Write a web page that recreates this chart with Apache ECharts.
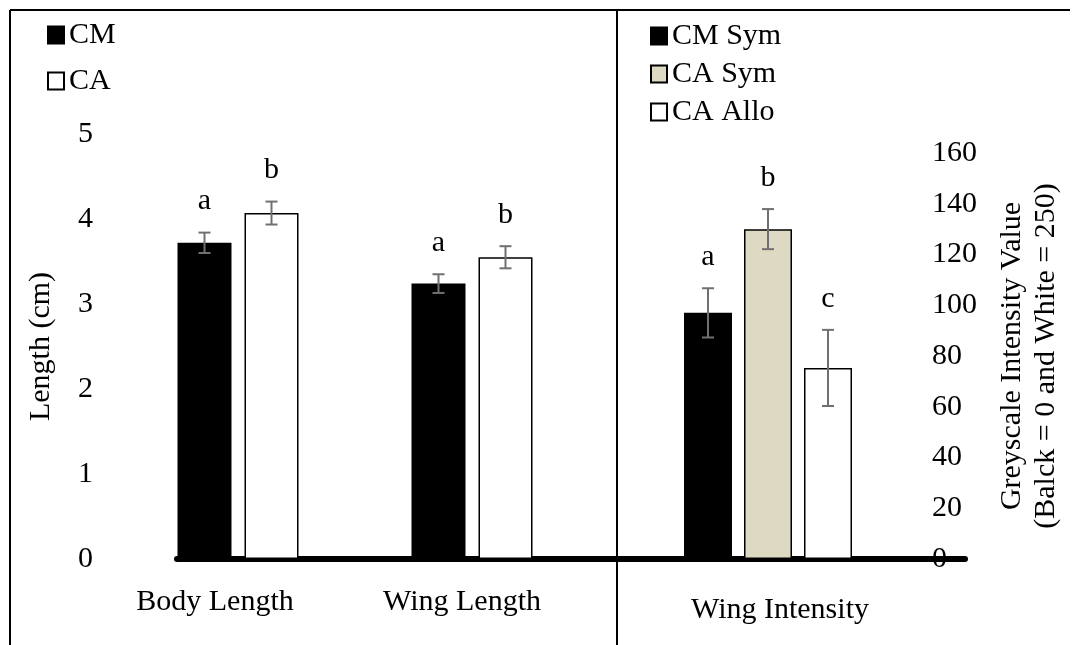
<!DOCTYPE html>
<html>
<head>
<meta charset="utf-8">
<script src="https://cdn.jsdelivr.net/npm/echarts@6/dist/echarts.min.js"></script>
<style>
html,body{margin:0;padding:0;background:#fff;}
#c{width:1080px;height:645px;}
</style>
</head>
<body>
<div id="c"></div>
<script>
// ---- data ----
const lengthCategories = ['Body Length', 'Wing Length'];
const cmMeans = [3.72, 3.24];
const cmErr = [0.12, 0.11];
const cmLetters = ['a', 'a'];
const caMeans = [4.07, 3.55];
const caErr = [0.135, 0.13];
const caLetters = ['b', 'b'];

const intensityCategories = ['Wing Intensity'];
const cmSymMeans = [97];
const cmSymErr = [9.7];
const cmSymLetters = ['a'];
const caSymMeans = [130];
const caSymErr = [7.9];
const caSymLetters = ['b'];
const caAlloMeans = [75.3];
const caAlloErr = [15];
const caAlloLetters = ['c'];

const leftTicks = {min: 0, max: 5, interval: 1};
const rightTicks = {min: 0, max: 160, interval: 20};

// ---- style ----
const FONT = 'Liberation Serif, "Times New Roman", serif';
const FS = 30;
const TAN = '#ddd9c3';
const ERR = '#707070';
const LBW = 54, LGAP = 13;
const RBW = 48, RGAP = 12;

function errData(means, errs, letters) {
  return means.map((m, i) => [i, m, errs[i], letters[i]]);
}
function errSeries(name, means, errs, letters, idx, n, bw, gap, axisIdx) {
  const offset = (idx - (n - 1) / 2) * (bw + gap);
  return {
    type: 'custom',
    name: name + ' err',
    xAxisIndex: axisIdx, yAxisIndex: axisIdx,
    z: 10,
    silent: true,
    data: errData(means, errs, letters),
    renderItem: function (params, api) {
      const c = api.value(0), m = api.value(1), e = api.value(2);
      const top = api.coord([c, m + e]);
      const bot = api.coord([c, m - e]);
      const x = top[0] + offset;
      const cap = 6;
      const st = {stroke: ERR, lineWidth: 2};
      return {
        type: 'group',
        children: [
          {type: 'line', shape: {x1: x, y1: top[1], x2: x, y2: bot[1]}, style: st},
          {type: 'line', shape: {x1: x - cap, y1: top[1], x2: x + cap, y2: top[1]}, style: st},
          {type: 'line', shape: {x1: x - cap, y1: bot[1], x2: x + cap, y2: bot[1]}, style: st},
          {type: 'text', style: {text: api.value(3), x: x, y: top[1] - 16, align: 'center', verticalAlign: 'bottom',
             font: FS + 'px ' + FONT, fill: '#000'}}
        ]
      };
    }
  };
}

const barBase = {type: 'bar', barGap: '0%'};

const option = {
  animation: false,
  backgroundColor: '#fff',
  legend: [
    {
      data: ['CM', 'CA'], orient: 'vertical', left: 42, top: 15,
      itemWidth: 16, itemHeight: 17, itemGap: 16, icon: 'rect',
      textStyle: {fontFamily: FONT, fontSize: FS, color: '#000'}
    },
    {
      data: ['CM Sym', 'CA Sym', 'CA Allo'], orient: 'vertical', left: 645, top: 16,
      itemWidth: 16, itemHeight: 17, itemGap: 8, icon: 'rect',
      textStyle: {fontFamily: FONT, fontSize: FS, color: '#000'}
    }
  ],
  grid: [
    {left: 121, right: 1080 - 589, top: 134, bottom: 86, containLabel: false},
    {left: 617, right: 1080 - 919, top: 153, bottom: 86, containLabel: false},
    {left: 177, right: 1080 - 965, top: 134, bottom: 86, containLabel: false}
  ],
  xAxis: [
    {
      type: 'category', gridIndex: 0, data: lengthCategories,
      axisLine: {show: false}, axisTick: {show: false},
      axisLabel: {
        interval: 0, hideOverlap: false,
        margin: 28, color: '#000', fontFamily: FONT, fontSize: FS,
        formatter: function (v, i) { return i === 0 ? '{a|' + v + '}' : '{b|' + v + '}'; },
        rich: {
          a: {fontFamily: FONT, fontSize: FS, color: '#000', padding: [0, 46, 0, 0]},
          b: {fontFamily: FONT, fontSize: FS, color: '#000', padding: [0, 20, 0, 0]}
        }
      }
    },
    {
      type: 'category', gridIndex: 1, data: intensityCategories,
      axisLine: {show: false}, axisTick: {show: false},
      axisLabel: {
        interval: 0,
        margin: 36, color: '#000', fontFamily: FONT, fontSize: FS,
        formatter: function (v) { return '{a|' + v + '}'; },
        rich: {a: {fontFamily: FONT, fontSize: FS, color: '#000', padding: [0, 0, 0, 24]}}
      }
    },
    {
      type: 'value', gridIndex: 2, min: 0, max: 1,
      axisLine: {show: true, onZero: false, lineStyle: {color: '#000', width: 6}},
      axisTick: {show: false}, axisLabel: {show: false}, splitLine: {show: false}
    }
  ],
  yAxis: [
    {
      type: 'value', gridIndex: 0, min: leftTicks.min, max: leftTicks.max, interval: leftTicks.interval,
      axisLine: {show: false}, axisTick: {show: false}, splitLine: {show: false},
      axisLabel: {margin: 28, color: '#000', fontFamily: FONT, fontSize: FS},
      name: 'Length (cm)', nameLocation: 'middle', nameGap: 65, nameRotate: 90,
      nameTextStyle: {fontFamily: FONT, fontSize: FS, color: '#000'}
    },
    {
      type: 'value', gridIndex: 1, position: 'right',
      min: rightTicks.min, max: rightTicks.max, interval: rightTicks.interval,
      axisLine: {show: false}, axisTick: {show: false}, splitLine: {show: false},
      axisLabel: {margin: 13, color: '#000', fontFamily: FONT, fontSize: FS},
      name: 'Greyscale Intensity Value\n(Balck = 0 and White = 250)',
      nameLocation: 'middle', nameGap: 76, nameRotate: 90,
      nameTextStyle: {fontFamily: FONT, fontSize: FS, color: '#000', lineHeight: 34}
    },
    {
      type: 'value', gridIndex: 2, show: false, min: 0, max: 1
    }
  ],
  series: [
    Object.assign({}, barBase, {name: 'CM', xAxisIndex: 0, yAxisIndex: 0, data: cmMeans, barWidth: LBW,
      barGap: (LGAP / LBW * 100).toFixed(1) + '%',
      itemStyle: {color: '#000', borderColor: '#000', borderWidth: 1.5}}),
    Object.assign({}, barBase, {name: 'CA', xAxisIndex: 0, yAxisIndex: 0, data: caMeans, barWidth: LBW,
      barGap: (LGAP / LBW * 100).toFixed(1) + '%',
      itemStyle: {color: '#fff', borderColor: '#000', borderWidth: 1.5}}),
    Object.assign({}, barBase, {name: 'CM Sym', xAxisIndex: 1, yAxisIndex: 1, data: cmSymMeans, barWidth: RBW,
      barGap: (RGAP / RBW * 100).toFixed(1) + '%',
      itemStyle: {color: '#000', borderColor: '#000', borderWidth: 1.5}}),
    Object.assign({}, barBase, {name: 'CA Sym', xAxisIndex: 1, yAxisIndex: 1, data: caSymMeans, barWidth: RBW,
      barGap: (RGAP / RBW * 100).toFixed(1) + '%',
      itemStyle: {color: TAN, borderColor: '#000', borderWidth: 1.5}}),
    Object.assign({}, barBase, {name: 'CA Allo', xAxisIndex: 1, yAxisIndex: 1, data: caAlloMeans, barWidth: RBW,
      barGap: (RGAP / RBW * 100).toFixed(1) + '%',
      itemStyle: {color: '#fff', borderColor: '#000', borderWidth: 1.5}}),
    errSeries('CM', cmMeans, cmErr, cmLetters, 0, 2, LBW, LGAP, 0),
    errSeries('CA', caMeans, caErr, caLetters, 1, 2, LBW, LGAP, 0),
    errSeries('CM Sym', cmSymMeans, cmSymErr, cmSymLetters, 0, 3, RBW, RGAP, 1),
    errSeries('CA Sym', caSymMeans, caSymErr, caSymLetters, 1, 3, RBW, RGAP, 1),
    errSeries('CA Allo', caAlloMeans, caAlloErr, caAlloLetters, 2, 3, RBW, RGAP, 1)
  ],
  graphic: [
    {type: 'line', silent: true, shape: {x1: 10, y1: 10, x2: 1070, y2: 10}, style: {stroke: '#000', lineWidth: 2}},
    {type: 'line', silent: true, shape: {x1: 10, y1: 10, x2: 10, y2: 645}, style: {stroke: '#000', lineWidth: 2}},
    {type: 'line', silent: true, shape: {x1: 617, y1: 10, x2: 617, y2: 645}, style: {stroke: '#000', lineWidth: 2}}
  ]
};

const chart = echarts.init(document.getElementById('c'), null, {renderer: 'canvas'});
chart.setOption(option);
</script>
</body>
</html>
